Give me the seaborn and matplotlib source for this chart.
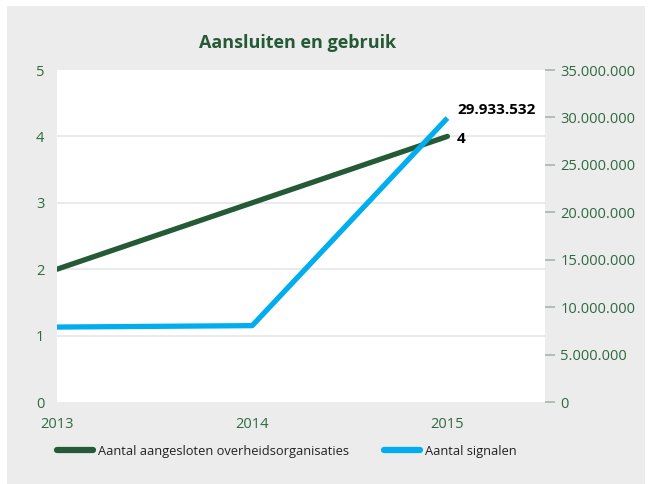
import matplotlib
matplotlib.use("Agg")
import matplotlib.pyplot as plt
from matplotlib.patches import Rectangle
from matplotlib.lines import Line2D
from matplotlib.ticker import FuncFormatter
import seaborn as sns
import pandas as pd

# Data
years = [2013, 2014, 2015]
organisaties = [2, 3, 4]
signalen = [7_900_000, 8_050_000, 29_933_532]

labels_series = ["Aantal aangesloten overheidsorganisaties", "Aantal signalen"]
title = "Aansluiten en gebruik"

GREEN = "#245a35"
BLUE = "#00aeef"
TICK_GREEN = "#2e6a40"
BG = "#ececec"
GRID = "#e6e6e6"

sns.set_theme(style="white")
plt.rcParams["font.family"] = ["Open Sans", "DejaVu Sans"]

df = pd.DataFrame({"jaar": years, "organisaties": organisaties, "signalen": signalen})

fig = plt.figure(figsize=(6.5, 4.84), dpi=100, facecolor="white")
fig.patches.append(Rectangle((7 / 650, 0), 638 / 650, 478 / 484, transform=fig.transFigure,
                             facecolor=BG, edgecolor="none", zorder=-10))

ax = fig.add_axes([57 / 650, 1 - 402 / 484, 488 / 650, 332 / 484])
ax.set_facecolor("white")
ax2 = ax.twinx()

sns.lineplot(data=df, x="jaar", y="organisaties", ax=ax, color=GREEN, linewidth=3.8,
             solid_capstyle="round", zorder=3)
sns.lineplot(data=df, x="jaar", y="signalen", ax=ax2, color=BLUE, linewidth=3.8,
             solid_capstyle="butt", zorder=3)

ax.set_xlim(2013, 2015.5)
ax.set_ylim(0, 5)
ax2.set_ylim(0, 35_000_000)

for a in (ax, ax2):
    for s in a.spines.values():
        s.set_visible(False)
    a.set_xlabel("")
    a.set_ylabel("")

ax.set_yticks([0, 1, 2, 3, 4, 5])
ax.set_yticklabels([str(v) for v in [0, 1, 2, 3, 4, 5]])
for v in [1, 2, 3, 4]:
    ax.axhline(v, color=GRID, linewidth=1.2, zorder=1)
ax.tick_params(axis="y", length=0, pad=9, labelsize=10.5, labelcolor=TICK_GREEN)
ax.set_xticks(years)
ax.set_xticklabels([str(y) for y in years])
ax.tick_params(axis="x", length=0, pad=11, labelsize=10.5, labelcolor=TICK_GREEN)

ax2.set_yticks(range(0, 35_000_001, 5_000_000))
ax2.yaxis.set_major_formatter(FuncFormatter(lambda v, p: f"{int(v):,}".replace(",", ".")))
ax2.tick_params(axis="y", right=True, length=7, width=1.2, color="#a9b5aa", pad=4,
                labelsize=10.5, labelcolor=TICK_GREEN, direction="out")
ax.set_zorder(ax2.get_zorder() - 1)
ax2.patch.set_visible(False)

# Value labels at the last year
ax2.annotate(f"{signalen[-1]:,}".replace(",", "."), xy=(years[-1], signalen[-1]),
             xytext=(7, 6), textcoords="offset points", fontsize=11,
             fontweight="bold", color="black", va="center", ha="left")
ax.annotate(str(organisaties[-1]), xy=(years[-1], organisaties[-1]),
            xytext=(7, -2), textcoords="offset points", fontsize=11,
            fontweight="bold", color="black", va="center", ha="left")

fig.text(298 / 650, 1 - 43 / 484, title, fontsize=13, fontweight="bold", color=GREEN,
         ha="center", va="center")

handles = [Line2D([], [], color=GREEN, linewidth=4.5, solid_capstyle="round"),
           Line2D([], [], color=BLUE, linewidth=4.5, solid_capstyle="round")]
fig.legend(handles, labels_series, loc="center left", bbox_to_anchor=(45 / 650, 1 - 451 / 484),
           ncol=2, frameon=False, fontsize=9.3, handlelength=2.8, handletextpad=0.4,
           columnspacing=2.7, labelcolor="#222222")

fig.savefig("out.png", dpi=100, facecolor="white")
